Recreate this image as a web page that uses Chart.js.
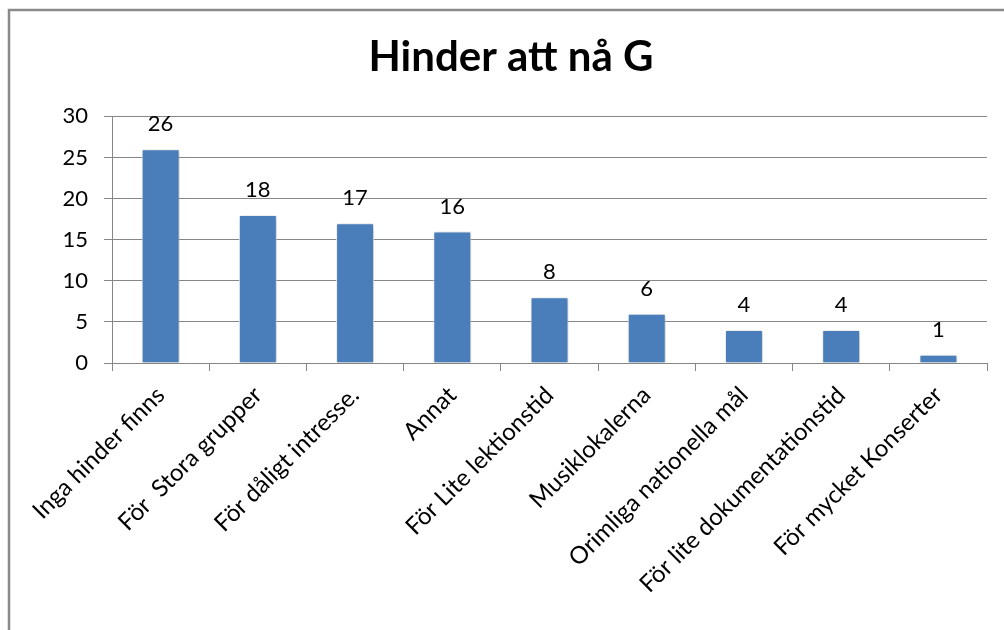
<!DOCTYPE html>
<html>
<head>
<meta charset="utf-8">
<script src="https://cdn.jsdelivr.net/npm/chart.js@4"></script>
<style>
  html, body { margin: 0; padding: 0; background: #fff; }
  #wrap { width: 1004px; height: 630px; }
</style>
</head>
<body>
<div id="wrap"><canvas id="hinderChart" width="1004" height="630"></canvas></div>
<script>
const categories = [
  'Inga hinder finns',
  'För  Stora grupper',
  'För dåligt intresse.',
  'Annat',
  'För Lite lektionstid',
  'Musiklokalerna',
  'Orimliga nationella mål',
  'För lite dokumentationstid',
  'För mycket Konserter'
];
const counts = [26, 18, 17, 16, 8, 6, 4, 4, 1];
const yTicks = [0, 5, 10, 15, 20, 25, 30];

const FONT = 'Lato, "Open Sans", sans-serif';
const GRID = '#868686';

// white page with the grey frame round the chart
const frame = {
  id: 'frame',
  beforeDraw(chart) {
    const c = chart.ctx;
    c.save();
    c.fillStyle = '#fff';
    c.fillRect(0, 0, chart.width, chart.height);
    c.restore();
  },
  afterDraw(chart) {
    const c = chart.ctx;
    c.save();
    c.strokeStyle = '#8a8a8a';
    c.lineWidth = 2.5;
    c.strokeRect(9, 10, chart.width + 40, chart.height + 40);
    c.restore();
  }
};

// soft shadow behind the bars
const barShadow = {
  id: 'barShadow',
  beforeDatasetDraw(chart) {
    const c = chart.ctx;
    c.save();
    c.shadowColor = 'rgba(0,0,0,0.28)';
    c.shadowBlur = 4;
    c.shadowOffsetX = 1;
    c.shadowOffsetY = 1;
  },
  afterDatasetDraw(chart) {
    chart.ctx.restore();
  }
};

// value written above each bar
const valueLabels = {
  id: 'valueLabels',
  afterDatasetsDraw(chart) {
    const c = chart.ctx;
    const meta = chart.getDatasetMeta(0);
    c.save();
    c.font = '22px ' + FONT;
    c.fillStyle = '#000';
    c.textAlign = 'center';
    c.textBaseline = 'middle';
    meta.data.forEach((bar, i) => {
      c.fillText(String(counts[i]), bar.x, bar.y - 25);
    });
    c.restore();
  }
};

new Chart(document.getElementById('hinderChart'), {
  type: 'bar',
  data: {
    labels: categories,
    datasets: [{
      data: counts,
      backgroundColor: '#4A7EBB',
      borderColor: 'rgba(255,255,255,0.9)',
      borderWidth: 1,
      categoryPercentage: 1,
      barPercentage: 0.39
    }]
  },
  options: {
    responsive: false,
    animation: false,
    layout: { padding: { left: 35, right: 17, top: 0, bottom: 0 } },
    plugins: {
      legend: { display: false },
      tooltip: { enabled: false },
      title: {
        display: true,
        text: 'Hinder att nå G',
        color: '#000',
        font: { family: FONT, size: 42, weight: 'bold' },
        padding: { top: 32, bottom: 34 }
      }
    },
    scales: {
      x: {
        grid: { display: true, drawOnChartArea: false, color: GRID, tickLength: 8, offset: true },
        border: { color: GRID },
        ticks: {
          color: '#000',
          font: { family: FONT, size: 24 },
          minRotation: 45,
          maxRotation: 45,
          autoSkip: false,
          padding: 10
        },
        afterFit(scale) { scale.height = 267; }
      },
      y: {
        min: 0,
        max: 30,
        afterBuildTicks(scale) { scale.ticks = yTicks.map(v => ({ value: v })); },
        grid: { color: GRID, tickLength: 8 },
        border: { color: GRID },
        ticks: {
          color: '#000',
          font: { family: FONT, size: 22 },
          padding: 16
        },
        afterFit(scale) { scale.width = 77; }
      }
    }
  },
  plugins: [frame, barShadow, valueLabels]
});
</script>
</body>
</html>
